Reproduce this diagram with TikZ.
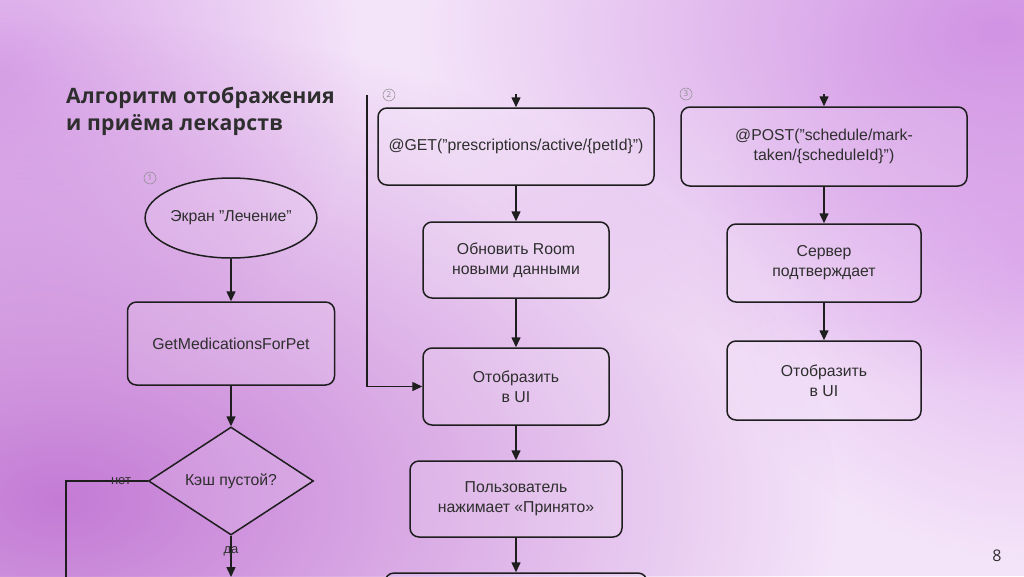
\documentclass[tikz,border=0pt]{standalone}
\usepackage{fontspec}
\setmainfont{Liberation Sans}
\newfontfamily\titlefont[LetterSpace=1.0]{Open Sans}
\newfontfamily\numfont{Open Sans}
\usetikzlibrary{arrows.meta,shapes.geometric,fadings}
\tikzfading[name=blobfade, inner color=transparent!0, outer color=transparent!100]
\definecolor{bgbase}{HTML}{F4E4F9}
\definecolor{blobA}{HTML}{C47BD5}
\definecolor{blobB}{HTML}{D193E4}
\definecolor{blobC}{HTML}{D9A4E8}
\definecolor{blobD}{HTML}{E2B5EF}
\definecolor{linec}{HTML}{1E1E1E}
\definecolor{textc}{HTML}{2E2E2E}
\definecolor{numc}{HTML}{8A8A8A}
\newcommand{\boxfont}{\fontsize{15.8}{20}\selectfont}
\begin{document}
\begin{tikzpicture}[x=1pt,y=-1pt,
  line/.style={draw=linec, line width=1.5pt},
  arr/.style={line, -{Triangle[length=10pt,width=9pt]}},
  shapebase/.style={draw=linec, line width=1.5pt, fill=white, fill opacity=0.12, text opacity=1,
     align=center, font=\boxfont, text=textc, inner sep=0pt},
  box/.style={shapebase, rectangle, rounded corners=9pt},
  oval/.style={shapebase, ellipse},
  decision/.style={shapebase, diamond},
  lbl/.style={font=\fontsize{13}{15}\selectfont, text=textc, inner sep=1pt},
  numc/.style={circle, draw=numc, line width=0.5pt, minimum size=12pt, inner sep=0pt,
     font=\numfont\fontsize{8}{8}\selectfont, text=numc},
  title/.style={font=\titlefont\bfseries\fontsize{21.2}{27}\selectfont, text=textc, align=left, anchor=north west, inner sep=0pt}
]
\useasboundingbox (0,0) rectangle (1024,576);
\clip (0,0) rectangle (1024,576);
% background
\fill[bgbase] (0,0) rectangle (1024,576);
\fill[blobD, path fading=blobfade] (1040,260) ellipse [x radius=340, y radius=300];
\fill[blobC, path fading=blobfade] (0,70) ellipse [x radius=360, y radius=340];
\fill[blobB, path fading=blobfade] (1000,30) ellipse [x radius=580, y radius=360];
\fill[blobA, path fading=blobfade] (60,500) ellipse [x radius=780, y radius=480];

% title
\node[title] (ttl) at (66,87) {Алгоритм отображения\\и приёма лекарств};
\node[font=\numfont\fontsize{16}{18}\selectfont, text=textc] (pg) at (997,556) {8};

% circled numbers
\node[numc] (n1) at (150,178) {1};
\node[numc] (n2) at (389,95) {2};
\node[numc] (n3) at (686,94) {3};

% column 1
\node[oval, minimum width=166pt, minimum height=80pt] (ell) at (231,218) {Экран "Лечение"};
\node[box, minimum width=207pt, minimum height=83pt] (gm) at (231,343.5) {GetMedicationsForPet};
\node[decision, minimum width=165pt, minimum height=108pt] (dia) at (231,481) {Кэш пустой?};
\coordinate (nb) at (66,590);
\coordinate (yb) at (231,577);
\draw[arr] (ell) -- (gm);
\draw[arr] (gm) -- (dia);
\draw[line] (dia.west) -| (nb);
\node[lbl] (net) at (121,481) {нет};
\draw[arr] (dia.south) -- (yb);
\node[lbl] (da) at (231,551) {да};

% column 2
\coordinate (c2top) at (367,95);
\coordinate (g2) at (516,94);
\node[box, minimum width=276pt, minimum height=77pt] (get) at (516,146.5) {@GET("prescriptions/active/\{petId\}")};
\node[box, minimum width=186pt, minimum height=76pt] (upd) at (516,260) {Обновить Room\\новыми данными};
\node[box, minimum width=186pt, minimum height=77pt] (show2) at (516,386.5) {Отобразить\\в UI};
\node[box, minimum width=212pt, minimum height=76pt] (user) at (516,499) {Пользователь\\нажимает «Принято»};
\node[box, minimum width=262pt, minimum height=74pt] (last) at (516,610) {};
\draw[arr] (g2) -- (get);
\draw[arr] (get) -- (upd);
\draw[arr] (upd) -- (show2);
\draw[arr] (show2) -- (user);
\draw[arr] (user) -- (last);
\draw[arr] (c2top) |- (show2.west);

% column 3
\coordinate (g3) at (824,94);
\node[box, minimum width=286pt, minimum height=79pt] (post) at (824,146.5) {@POST("schedule/mark-\\taken/\{scheduleId\}")};
\node[box, minimum width=194pt, minimum height=78pt] (srv) at (824,263) {Сервер\\подтверждает};
\node[box, minimum width=194pt, minimum height=79pt] (show3) at (824,380.5) {Отобразить\\в UI};
\draw[arr] (g3) -- (post);
\draw[arr] (post) -- (srv);
\draw[arr] (srv) -- (show3);
\end{tikzpicture}
\end{document}
